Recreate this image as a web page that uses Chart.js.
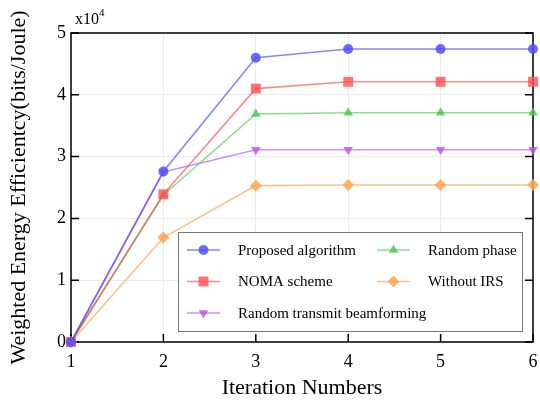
<!DOCTYPE html>
<html><head><meta charset="utf-8">
<script src="https://cdn.jsdelivr.net/npm/chart.js@4"></script>
<style>html,body{margin:0;padding:0;background:#fff}#c{display:block}</style>
</head><body>
<div style="width:540px;height:403px"><canvas id="c" width="540" height="403"></canvas></div>
<script>
const iterations = [1, 2, 3, 4, 5, 6];
const proposed = [0, 27600, 46000, 47400, 47400, 47400];
const noma = [0, 23900, 41000, 42100, 42100, 42100];
const randomPhase = [0, 23800, 36900, 37100, 37100, 37100];
const randomTx = [0, 27500, 31100, 31100, 31100, 31100];
const withoutIRS = [0, 16900, 25300, 25400, 25400, 25400];
const yTickValues = [0, 10000, 20000, 30000, 40000, 50000];
const seriesNames = ['Proposed algorithm', 'NOMA scheme', 'Random phase', 'Random transmit beamforming', 'Without IRS'];

const FONT = '"Liberation Serif", "Times New Roman", serif';
const pts = arr => arr.map((v, i) => ({x: iterations[i], y: v}));

function ds(label, data, line, fill, style, radius, rot) {
  return {
    label, data: pts(data), borderColor: line, backgroundColor: fill,
    pointBackgroundColor: fill, pointBorderColor: fill, pointBorderWidth: 0,
    pointStyle: style, pointRadius: radius, pointRotation: rot || 0,
    borderWidth: 1.6, tension: 0, clip: false
  };
}
const datasets = [
  ds(seriesNames[0], proposed, 'rgba(70,70,255,0.65)', 'rgba(80,80,255,0.85)', 'circle', 5),
  ds(seriesNames[1], noma, 'rgba(255,60,60,0.6)', 'rgba(255,80,80,0.8)', 'rect', 7),
  ds(seriesNames[2], randomPhase, 'rgba(60,200,60,0.6)', 'rgba(70,200,70,0.8)', 'triangle', 5.5),
  ds(seriesNames[3], randomTx, 'rgba(190,70,240,0.6)', 'rgba(190,80,240,0.8)', 'triangle', 5.5, 180),
  ds(seriesNames[4], withoutIRS, 'rgba(255,160,70,0.65)', 'rgba(255,165,80,0.85)', 'rectRot', 6)
];

const framePlugin = {
  id: 'frame',
  beforeDatasetsDraw(chart) {
    const {ctx, chartArea: a, scales} = chart;
    ctx.save();
    ctx.strokeStyle = '#000';
    ctx.lineWidth = 1.5;
    ctx.strokeRect(a.left, a.top, a.right - a.left, a.bottom - a.top);
    ctx.beginPath();
    const tl = 8;
    scales.x.ticks.forEach(t => {
      const x = scales.x.getPixelForValue(t.value);
      ctx.moveTo(x, a.bottom); ctx.lineTo(x, a.bottom - tl);
    });
    scales.y.ticks.forEach(t => {
      const y = scales.y.getPixelForValue(t.value);
      ctx.moveTo(a.left, y); ctx.lineTo(a.left + tl, y);
      ctx.moveTo(a.right, y); ctx.lineTo(a.right - tl, y);
    });
    ctx.stroke();
    ctx.fillStyle = '#000';
    ctx.textBaseline = 'alphabetic';
    ctx.textAlign = 'left';
    ctx.font = '16px ' + FONT;
    ctx.fillText('x10', a.left + 4, a.top - 9);
    const w = ctx.measureText('x10').width;
    ctx.font = '11px ' + FONT;
    ctx.fillText('4', a.left + 4 + w, a.top - 17);
    ctx.restore();
  },
  afterDraw(chart) {
    const {ctx, chartArea: a} = chart;
    const H = Chart.helpers;
    ctx.save();
    const bx = a.left + 107, by = a.top + 199, bw = 344, bh = 99;
    ctx.fillStyle = '#fff';
    ctx.fillRect(bx, by, bw, bh);
    ctx.strokeStyle = '#777';
    ctx.lineWidth = 1;
    ctx.strokeRect(bx + 0.5, by + 0.5, bw, bh);
    const order = [[0, 0, 0], [1, 0, 1], [3, 0, 2], [2, 1, 0], [4, 1, 1]];
    ctx.font = '15px ' + FONT;
    ctx.textBaseline = 'middle';
    order.forEach(([di, col, row]) => {
      const d = chart.data.datasets[di];
      const lx = bx + 9 + col * 190;
      const ly = by + 18 + row * 31.5;
      ctx.strokeStyle = d.borderColor;
      ctx.lineWidth = d.borderWidth;
      ctx.beginPath(); ctx.moveTo(lx, ly); ctx.lineTo(lx + 33, ly); ctx.stroke();
      ctx.fillStyle = d.pointBackgroundColor;
      ctx.strokeStyle = d.pointBackgroundColor;
      H.drawPoint(ctx, {pointStyle: d.pointStyle, radius: d.pointRadius, rotation: d.pointRotation, borderWidth: 0}, lx + 16.5, ly);
      ctx.fillStyle = '#000';
      ctx.fillText(d.label, lx + 51, ly + 1);
    });
    ctx.restore();
  }
};

new Chart(document.getElementById('c'), {
  type: 'line',
  data: {datasets},
  options: {
    responsive: false, animation: false, devicePixelRatio: 1,
    layout: {padding: {top: 33, right: 7, left: 0, bottom: 0}},
    plugins: {legend: {display: false}, tooltip: {enabled: false}},
    scales: {
      x: {
        type: 'linear', min: 1, max: 6,
        afterFit: s => { s.height = 61; s.paddingLeft = 0; s.paddingRight = 0; },
        afterBuildTicks: s => { s.ticks = iterations.map(v => ({value: v})); },
        grid: {color: '#ececec', drawTicks: false},
        border: {display: false},
        ticks: {color: '#000', font: {family: FONT, size: 18}, padding: 9, callback: v => String(v)},
        title: {display: true, text: 'Iteration Numbers', color: '#000', font: {family: FONT, size: 22}, padding: {bottom: 2, top: 0}}
      },
      y: {
        min: 0, max: 50000,
        afterFit: s => { s.width = 71; s.paddingTop = 0; s.paddingBottom = 0; },
        afterBuildTicks: s => { s.ticks = yTickValues.map(v => ({value: v})); },
        grid: {color: '#ececec', drawTicks: false},
        border: {display: false},
        ticks: {color: '#000', font: {family: FONT, size: 18}, padding: 5, callback: v => String(v / 10000)},
        title: {display: true, text: 'Weighted Energy Efficientcy(bits/Joule)', color: '#000', font: {family: FONT, size: 22}, padding: {top: 6, bottom: 0}}
      }
    }
  },
  plugins: [framePlugin]
});
</script>
</body></html>
